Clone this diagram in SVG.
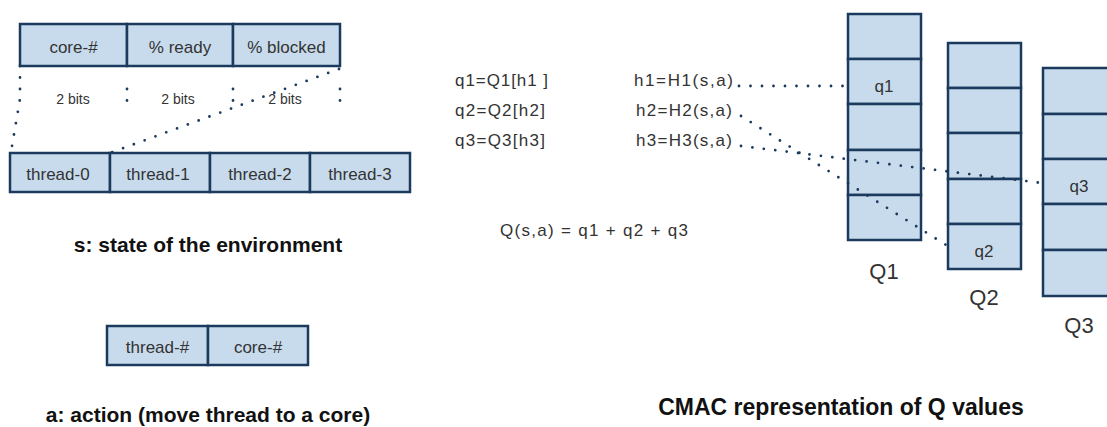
<svg xmlns="http://www.w3.org/2000/svg" width="1107" height="427" viewBox="0 0 1107 427">
<style>
.cell{fill:#c8dbed;stroke:#1b3a5e;stroke-width:2.5}
.lbl{font-family:"Liberation Sans",Arial,sans-serif;font-size:17px;fill:#333;text-anchor:middle}
.small{font-family:"Liberation Sans",Arial,sans-serif;font-size:14px;fill:#333;text-anchor:middle}
.f{font-family:"Liberation Sans",Arial,sans-serif;font-size:17px;fill:#333}
.Q{font-family:"Liberation Sans",Arial,sans-serif;font-size:22px;fill:#333;text-anchor:middle}
.title{font-family:"Liberation Sans",Arial,sans-serif;font-size:21px;font-weight:bold;fill:#111;text-anchor:middle}
.dot{fill:none;stroke:#1b3a5e;stroke-width:2.8;stroke-linecap:round;stroke-dasharray:0 11.5}
</style>
<rect width="1107" height="427" fill="#fff"/>

<g id="state-bits">
<rect class="cell" x="20" y="24" width="107" height="42"/>
<rect class="cell" x="127" y="24" width="106" height="42"/>
<rect class="cell" x="233" y="24" width="107" height="42"/>
<text class="lbl" x="73.5" y="53">core-#</text>
<text class="lbl" x="180" y="53">% ready</text>
<text class="lbl" x="286.5" y="53">% blocked</text>
</g>

<g id="bits-labels">
<text class="small" x="73" y="104">2 bits</text>
<text class="small" x="178" y="104">2 bits</text>
<text class="small" x="285" y="104">2 bits</text>
</g>

<g id="threads">
<rect class="cell" x="10" y="153" width="100" height="39"/>
<rect class="cell" x="110" y="153" width="100" height="39"/>
<rect class="cell" x="210" y="153" width="100" height="39"/>
<rect class="cell" x="310" y="153" width="100" height="39"/>
<text class="lbl" x="58" y="180">thread-0</text>
<text class="lbl" x="158" y="180">thread-1</text>
<text class="lbl" x="260" y="180">thread-2</text>
<text class="lbl" x="360" y="180">thread-3</text>
</g>

<g id="state-title">
<text class="title" x="208" y="252">s: state of the environment</text>
</g>

<g id="action">
<rect class="cell" x="107" y="326" width="101" height="39"/>
<rect class="cell" x="208" y="326" width="100" height="39"/>
<text class="lbl" x="157.5" y="353">thread-#</text>
<text class="lbl" x="258" y="353">core-#</text>
</g>

<g id="action-title">
<text class="title" x="208" y="422">a: action (move thread to a core)</text>
</g>

<g id="formulas">
<text class="f" x="455" y="86" textLength="93">q1=Q1[h1 ]</text>
<text class="f" x="455" y="116" textLength="90">q2=Q2[h2]</text>
<text class="f" x="455" y="146" textLength="90">q3=Q3[h3]</text>
<text class="f" x="634" y="86" textLength="99">h1=H1(s,a)</text>
<text class="f" x="636" y="116" textLength="96">h2=H2(s,a)</text>
<text class="f" x="636" y="146" textLength="96">h3=H3(s,a)</text>
<text class="f" x="500" y="236" textLength="188">Q(s,a) = q1 + q2 + q3</text>
</g>

<g id="Q1">
<rect class="cell" x="848" y="14" width="73" height="45"/>
<rect class="cell" x="848" y="59" width="73" height="45"/>
<rect class="cell" x="848" y="104" width="73" height="46"/>
<rect class="cell" x="848" y="150" width="73" height="45"/>
<rect class="cell" x="848" y="195" width="73" height="45"/>
<text class="lbl" x="884" y="92">q1</text>
<text class="Q" x="884" y="279">Q1</text>
</g>

<g id="Q2">
<rect class="cell" x="948" y="43" width="73" height="45"/>
<rect class="cell" x="948" y="88" width="73" height="45"/>
<rect class="cell" x="948" y="133" width="73" height="46"/>
<rect class="cell" x="948" y="179" width="73" height="45"/>
<rect class="cell" x="948" y="224" width="73" height="45"/>
<text class="lbl" x="984" y="257">q2</text>
<text class="Q" x="984" y="305">Q2</text>
</g>

<g id="Q3">
<rect class="cell" x="1043" y="68" width="75" height="46"/>
<rect class="cell" x="1043" y="114" width="75" height="45"/>
<rect class="cell" x="1043" y="159" width="75" height="45"/>
<rect class="cell" x="1043" y="204" width="75" height="46"/>
<rect class="cell" x="1043" y="250" width="75" height="46"/>
<text class="lbl" x="1079" y="192">q3</text>
<text class="Q" x="1079" y="333">Q3</text>
</g>

<g id="cmac-title">
<text class="title" x="841" y="415" style="font-size:23px">CMAC representation of Q values</text>
</g>

<g id="connectors">
<path class="dot" d="M20,66 L20,99 L11,152"/>
<path class="dot" d="M339,69 L110,153"/>
<path class="dot" d="M127,89 L127,101"/>
<path class="dot" d="M233,89 L233,101"/>
<path class="dot" d="M340,89 L340,101"/>
<path class="dot" d="M739,86 L848,86"/>
<path class="dot" d="M741,116 L946,245"/>
<path class="dot" d="M741,146 L1042,183"/>
</g>
</svg>
